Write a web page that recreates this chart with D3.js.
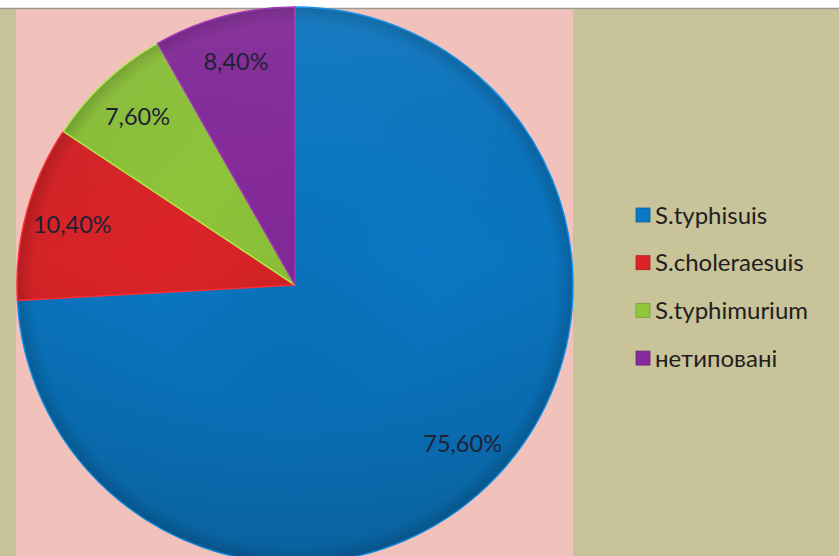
<!DOCTYPE html>
<html>
<head>
<meta charset="utf-8">
<script src="https://cdn.jsdelivr.net/npm/d3@7"></script>
<style>
  html, body { margin: 0; padding: 0; background: #fff; }
  svg { display: block; }
</style>
</head>
<body>
<div id="chart"></div>
<script>
/* pie chart of serotype shares */
const categories = ['S.typhisuis', 'S.choleraesuis', 'S.typhimurium', 'нетиповані'];
const values = [75.6, 10.4, 7.6, 8.4];
const labels = ['75,60%', '10,40%', '7,60%', '8,40%'];
const colors = ['#0a78c4', '#dc2428', '#8fc63a', '#862a9c'];

const W = 839, H = 556;
const cx = 295, cy = 285, R = 278;

const svg = d3.select('#chart').append('svg').attr('width', W).attr('height', H);
const defs = svg.append('defs');

// backgrounds
svg.append('rect').attr('width', W).attr('height', H).attr('fill', '#c9c39a');
svg.append('rect').attr('width', W).attr('height', 8).attr('fill', '#ffffff');
svg.append('line').attr('x1', 0).attr('x2', W).attr('y1', 8.5).attr('y2', 8.5)
  .attr('stroke', '#9a9a92').attr('stroke-width', 1.5);
svg.append('rect').attr('x', 16).attr('y', 9.5).attr('width', 557).attr('height', H - 9.5)
  .attr('fill', '#f1c1bc');

// radial shading per slice (coords relative to pie centre)
colors.forEach((c, i) => {
  const g = defs.append('radialGradient').attr('id', 'grad' + i)
    .attr('gradientUnits', 'userSpaceOnUse')
    .attr('cx', 0).attr('cy', 0).attr('r', R);
  g.append('stop').attr('offset', '0%').attr('stop-color', d3.color(c).darker(0.15));
  g.append('stop').attr('offset', '50%').attr('stop-color', c);
  g.append('stop').attr('offset', '94%').attr('stop-color', d3.color(c).darker(0.1));
  g.append('stop').attr('offset', '100%').attr('stop-color', d3.color(c).darker(0.6));
});
// top-light / bottom-dark overlay
const shade = defs.append('linearGradient').attr('id', 'shade')
  .attr('gradientUnits', 'userSpaceOnUse')
  .attr('x1', 0).attr('y1', -R).attr('x2', 0).attr('y2', R);
shade.append('stop').attr('offset', '0%').attr('stop-color', '#fff').attr('stop-opacity', 0.06);
shade.append('stop').attr('offset', '45%').attr('stop-color', '#000').attr('stop-opacity', 0);
shade.append('stop').attr('offset', '100%').attr('stop-color', '#000').attr('stop-opacity', 0.16);

const pie = d3.pie().sort(null).value(d => d);
const arcs = pie(values);
const arc = d3.arc().innerRadius(0).outerRadius(R);
const labelArc = d3.arc().innerRadius(R * 0.83).outerRadius(R * 0.83);

const g = svg.append('g').attr('transform', `translate(${cx},${cy})`);

g.selectAll('path.slice').data(arcs).join('path')
  .attr('class', 'slice')
  .attr('d', arc)
  .attr('fill', (d, i) => `url(#grad${i})`)
  .attr('stroke', (d, i) => d3.color(colors[i]).brighter(0.5))
  .attr('stroke-width', 1.5)
  .attr('stroke-linejoin', 'round');

g.selectAll('path.shade').data(arcs).join('path')
  .attr('class', 'shade')
  .attr('d', arc)
  .attr('fill', 'url(#shade)')
  .attr('pointer-events', 'none');

g.selectAll('text.lbl').data(arcs).join('text')
  .attr('class', 'lbl')
  .attr('transform', d => `translate(${labelArc.centroid(d)})`)
  .attr('text-anchor', 'middle')
  .attr('dy', '0.35em')
  .attr('font-family', 'Lato, "Open Sans", sans-serif')
  .attr('font-size', 23.5)
  .attr('fill', '#1f2135')
  .text((d, i) => labels[i]);

// legend
const legend = svg.append('g').attr('transform', 'translate(636,215)');
const item = legend.selectAll('g').data(categories).join('g')
  .attr('transform', (d, i) => `translate(0,${i * 47.7})`);
item.append('rect')
  .attr('x', 0).attr('y', -7).attr('width', 14).attr('height', 14)
  .attr('fill', (d, i) => colors[i])
  .attr('stroke', (d, i) => d3.color(colors[i]).darker(0.6)).attr('stroke-width', 0.8);
item.append('text')
  .attr('x', 19).attr('dy', '0.36em')
  .attr('font-family', 'Lato, "Open Sans", sans-serif')
  .attr('font-size', 24)
  .attr('fill', '#1e1e1e')
  .text(d => d);
</script>
</body>
</html>
